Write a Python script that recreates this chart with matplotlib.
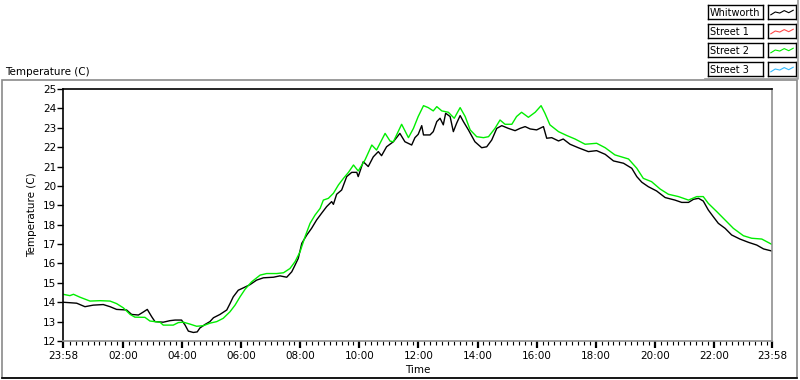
import numpy as np
import matplotlib
matplotlib.use("Agg")
import matplotlib.pyplot as plt
from matplotlib.patches import Rectangle
from matplotlib.lines import Line2D

plt.rcParams['font.family'] = ['DejaVu Sans']

# hours since midnight (chart runs 23:58 -> 23:58)
wh_hours = [-0.033, 0.43, 0.71, 0.99, 1.33, 1.56, 1.78, 2.12, 2.29, 2.52, 2.69, 2.82, 2.97, 3.08,
            3.36, 3.59, 3.76, 3.98, 4.10, 4.21, 4.38, 4.51, 4.60, 4.77, 4.94, 5.06, 5.28, 5.51,
            5.62, 5.73, 5.90, 6.07, 6.30, 6.52, 6.75, 7.09, 7.31, 7.54, 7.71, 7.82, 7.93, 8.05,
            8.22, 8.38, 8.55, 8.72, 8.89, 9.06, 9.12, 9.23, 9.40, 9.57, 9.74, 9.91, 9.96, 10.13,
            10.30, 10.47, 10.64, 10.75, 10.92, 11.15, 11.37, 11.54, 11.77, 11.88, 11.99,
            12.11, 12.17, 12.39, 12.50, 12.62, 12.73, 12.84, 12.92, 13.07, 13.18, 13.29, 13.41,
            13.52, 13.69, 13.91, 14.14, 14.31, 14.48, 14.65, 14.82, 15.04, 15.27, 15.44, 15.61,
            15.78, 16.00, 16.23, 16.34, 16.51, 16.74, 16.90, 17.13, 17.41, 17.75, 18.03, 18.32,
            18.60, 18.94, 19.22, 19.39, 19.56, 19.78, 20.06, 20.35, 20.68, 20.91, 21.14, 21.31,
            21.48, 21.64, 21.81, 21.98, 22.15, 22.38, 22.60, 22.88, 23.17, 23.45, 23.68, 23.967]
wh_temp = [14.0, 13.95, 13.77, 13.85, 13.88, 13.77, 13.63, 13.60, 13.37, 13.34, 13.5, 13.63, 13.25, 13.0,
           12.97, 13.05, 13.08, 13.08, 12.82, 12.51, 12.44, 12.47, 12.67, 12.85, 13.0, 13.2, 13.37, 13.6,
           13.93, 14.28, 14.62, 14.74, 14.91, 15.14, 15.26, 15.29, 15.36, 15.29, 15.57, 15.91, 16.26, 17.04,
           17.47, 17.81, 18.24, 18.59, 18.93, 19.19, 19.05, 19.57, 19.79, 20.48, 20.7, 20.7, 20.48, 21.25,
           21.0, 21.5, 21.77, 21.56, 22.02, 22.28, 22.71, 22.28, 22.11, 22.49, 22.66,
           23.11, 22.63, 22.63, 22.8, 23.32, 23.49, 23.15, 23.75, 23.58, 22.8, 23.23, 23.63,
           23.32, 22.89, 22.28, 21.97, 22.02, 22.37, 22.97, 23.11, 22.97, 22.85, 22.97, 23.06,
           22.94, 22.89, 23.06, 22.46, 22.49, 22.32, 22.42, 22.15, 21.97, 21.77, 21.82, 21.63,
           21.29, 21.17, 20.91, 20.48, 20.19, 19.96, 19.74, 19.40, 19.27, 19.15, 19.15, 19.31,
           19.36, 19.22, 18.76, 18.41, 18.07, 17.81, 17.47, 17.26, 17.09, 16.95, 16.75, 16.64]

s2_hours = [-0.033, 0.20, 0.32, 0.54, 0.88, 1.22, 1.56, 1.78, 2.01, 2.24, 2.40, 2.74, 2.91, 3.25,
            3.36, 3.70, 3.87, 4.04, 4.27, 4.49, 4.72, 4.94, 5.17, 5.39, 5.62, 5.79, 5.96, 6.13,
            6.35, 6.64, 6.86, 7.20, 7.43, 7.65, 7.82, 7.99, 8.16, 8.33, 8.50, 8.67, 8.78, 8.95,
            9.12, 9.29, 9.46, 9.63, 9.80, 9.96, 10.19, 10.42, 10.58, 10.87, 11.04, 11.15, 11.43,
            11.66, 11.83, 11.99, 12.17, 12.33, 12.50, 12.62, 12.79, 13.01, 13.21, 13.41, 13.58,
            13.75, 13.97, 14.20, 14.37, 14.59, 14.76, 14.93, 15.16, 15.32, 15.49, 15.72, 15.95,
            16.15, 16.28, 16.45, 16.74, 17.02, 17.30, 17.64, 18.03, 18.32, 18.65, 19.11, 19.39,
            19.61, 19.89, 20.18, 20.46, 20.80, 21.14, 21.42, 21.64, 21.81, 22.10, 22.38, 22.66,
            23.00, 23.28, 23.62, 23.967]
s2_temp = [14.41, 14.34, 14.41, 14.26, 14.06, 14.08, 14.06, 13.93, 13.71, 13.37, 13.23, 13.22, 13.03, 12.97,
           12.82, 12.82, 12.95, 12.97, 12.87, 12.76, 12.79, 12.92, 13.0, 13.17, 13.51, 13.85, 14.28, 14.67,
           15.05, 15.4, 15.48, 15.48, 15.52, 15.74, 16.09, 16.6, 17.38, 18.07, 18.5, 18.84, 19.27, 19.36,
           19.62, 20.05, 20.39, 20.70, 21.08, 20.77, 21.34, 22.11, 21.85, 22.71, 22.31, 22.28, 23.18,
           22.49, 22.97, 23.58, 24.14, 24.04, 23.87, 24.09, 23.87, 23.80, 23.49, 24.04, 23.58,
           22.89, 22.54, 22.49, 22.54, 22.97, 23.40, 23.18, 23.18, 23.58, 23.80, 23.54, 23.80,
           24.14, 23.75, 23.15, 22.80, 22.60, 22.42, 22.15, 22.20, 21.97, 21.60, 21.39, 20.91,
           20.39, 20.22, 19.84, 19.57, 19.45, 19.27, 19.45, 19.45, 19.10, 18.67, 18.24, 17.81,
           17.43, 17.30, 17.26, 16.98]

legend_names = ['Whitworth', 'Street 1', 'Street 2', 'Street 3']
legend_colors = ['black', '#ff4a4a', '#00ee00', '#33bbff']

x_tick_pos = [-0.0333, 2, 4, 6, 8, 10, 12, 14, 16, 18, 20, 22, 23.9667]
x_tick_lbl = ['23:58', '02:00', '04:00', '06:00', '08:00', '10:00', '12:00',
              '14:00', '16:00', '18:00', '20:00', '22:00', '23:58']

W, H = 800, 380
fig = plt.figure(figsize=(8, 3.8), dpi=100)
fs = 7.5

# outer panel frame
fig.patches.append(Rectangle((2 / W, 2 / H), 795 / W, 298 / H, transform=fig.transFigure,
                             fill=False, edgecolor='#8a8a8a', lw=1.2))
fig.add_artist(Line2D([2 / W, 797 / W], [2 / H, 2 / H], transform=fig.transFigure, color='black', lw=1.2))
fig.text(5 / W, 1 - 72 / H, 'Temperature (C)', fontsize=fs, va='center', ha='left')

ax = fig.add_axes([63 / W, 1 - 341 / H, 709 / W, 252 / H])
ax.plot(wh_hours, wh_temp, color=legend_colors[0], lw=1.0)
ax.plot(s2_hours, s2_temp, color=legend_colors[2], lw=1.0)

ax.set_xlim(x_tick_pos[0], x_tick_pos[-1])
ax.set_ylim(12, 25)
ax.set_yticks(range(12, 26))
ax.set_xticks(x_tick_pos)
ax.set_xticklabels(x_tick_lbl)
ax.set_xticks(np.arange(0.2, 23.9, 0.2), minor=True)
ax.tick_params(axis='both', labelsize=fs, direction='out')
ax.tick_params(axis='y', length=4, width=1, pad=1)
ax.tick_params(axis='x', which='major', length=5, width=1.6, pad=2)
ax.tick_params(axis='x', which='minor', length=3, width=0.8)
ax.set_xlabel('Time', fontsize=fs, labelpad=3)
ax.set_ylabel('Temperature (C)', fontsize=fs, labelpad=4)
for s in ['left', 'top']:
    ax.spines[s].set_color('black')
for s in ['right', 'bottom']:
    ax.spines[s].set_color('#909090')
for s in ax.spines.values():
    s.set_linewidth(1.2)

# legend: boxed names with line swatches, grey frame on the right and bottom
fig.add_artist(Line2D([705 / W, 798 / W, 798 / W], [1 - 79 / H, 1 - 79 / H, 1.0],
                      transform=fig.transFigure, color='#9a9a9a', lw=1.2))
zig = [0, 0.4, 0.25, 0.6, 0.3, 0.65]
for i, (name, col) in enumerate(zip(legend_names, legend_colors)):
    top = 5 + i * 19
    tax = fig.add_axes([708 / W, 1 - (top + 14) / H, 55 / W, 14 / H])
    tax.set_xticks([]); tax.set_yticks([])
    tax.text(0.03, 0.45, name, fontsize=7, va='center', ha='left', transform=tax.transAxes)
    sax = fig.add_axes([768 / W, 1 - (top + 14) / H, 28 / W, 14 / H])
    sax.set_xticks([]); sax.set_yticks([])
    sax.plot(np.linspace(0.1, 0.9, len(zig)), [0.3 + 0.5 * z for z in zig], color=col, lw=0.8)
    sax.set_xlim(0, 1); sax.set_ylim(0, 1)
    for a in (tax, sax):
        for s in a.spines.values():
            s.set_linewidth(1.0)

fig.savefig('out.png', dpi=100)
